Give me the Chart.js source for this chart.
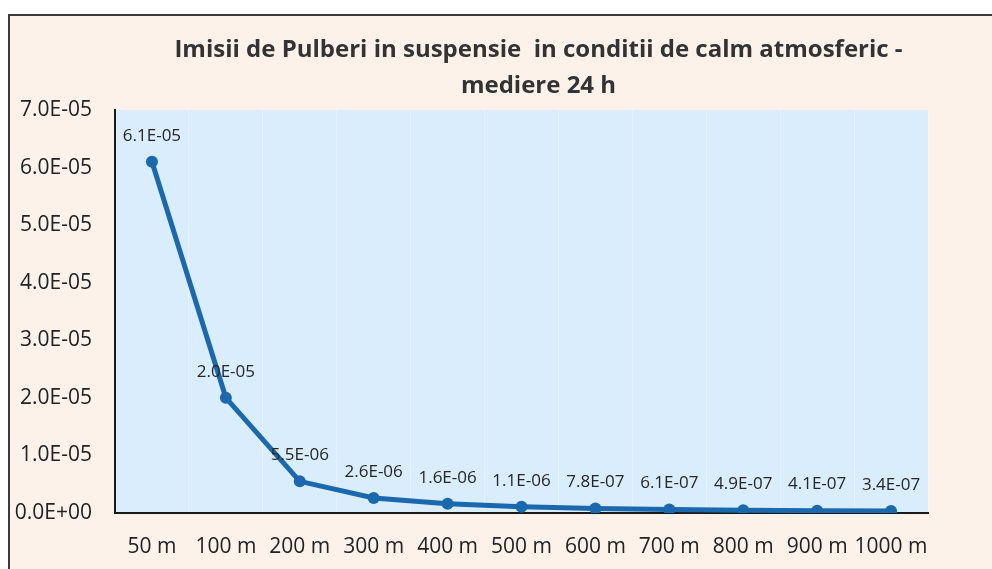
<!DOCTYPE html>
<html>
<head>
<meta charset="utf-8">
<script src="https://cdn.jsdelivr.net/npm/chart.js@4/dist/chart.umd.min.js"></script>
<style>
    html, body { margin: 0; padding: 0; background: #ffffff; overflow: hidden; }
    #frame {
        position: absolute; left: 8px; top: 14px; width: 1000px; height: 600px;
        border-top: 2px solid #3a3a3a; border-left: 2px solid #3a3a3a;
        background: #fcf2ea;
    }
    #wrap { position: absolute; left: 0; top: 0; width: 992px; height: 569px; }
</style>
</head>
<body>
<div id="frame"></div>
<div id="wrap"><canvas id="chart" width="992" height="569"></canvas></div>
<script>
// Date din grafic
const titleLines = ['Imisii de Pulberi in suspensie  in conditii de calm atmosferic -', 'mediere 24 h'];
const distances = ['50 m', '100 m', '200 m', '300 m', '400 m', '500 m', '600 m', '700 m', '800 m', '900 m', '1000 m'];
const imisii = [6.1e-5, 2.0e-5, 5.5e-6, 2.6e-6, 1.6e-6, 1.1e-6, 7.8e-7, 6.1e-7, 4.9e-7, 4.1e-7, 3.4e-7];
const yMin = 0;
const yMax = 7e-5;
const yStep = 1e-5;

// format stiintific ca in Excel: 6.1E-05
function sci(v) {
    const parts = v.toExponential(1).split('e');
    const exp = parseInt(parts[1], 10);
    return parts[0] + 'E' + (exp < 0 ? '-' : '+') + String(Math.abs(exp)).padStart(2, '0');
}

const FONT = "'Open Sans', 'DejaVu Sans', sans-serif";

// fundal albastru pentru zona graficului
const plotBg = {
    id: 'plotBg',
    beforeDraw(chart) {
        const { ctx, chartArea: a } = chart;
        ctx.save();
        ctx.fillStyle = '#d9edfc';
        ctx.fillRect(a.left, a.top, a.right - a.left, a.bottom - a.top);
        ctx.restore();
    }
};

// titlul pe doua randuri
const titlePlugin = {
    id: 'titlePlugin',
    afterDraw(chart) {
        const { ctx, chartArea: a } = chart;
        const cx = (a.left + a.right) / 2 + 17;
        ctx.save();
        ctx.font = 'bold 24px ' + FONT;
        ctx.fillStyle = '#333333';
        ctx.textAlign = 'center';
        ctx.textBaseline = 'middle';
        ctx.fillText(titleLines[0], cx, 50);
        ctx.fillText(titleLines[1], cx, 86);
        ctx.restore();
    }
};

// etichete de valori deasupra punctelor
const valueLabels = {
    id: 'valueLabels',
    afterDatasetsDraw(chart) {
        const { ctx } = chart;
        const meta = chart.getDatasetMeta(0);
        const data = chart.data.datasets[0].data;
        ctx.save();
        ctx.font = '17px ' + FONT;
        ctx.fillStyle = '#262626';
        ctx.textAlign = 'center';
        ctx.textBaseline = 'middle';
        meta.data.forEach((pt, i) => {
            ctx.fillText(sci(data[i]), pt.x, pt.y - 26);
        });
        ctx.restore();
    }
};

new Chart(document.getElementById('chart'), {
    type: 'line',
    data: {
        labels: distances,
        datasets: [{
            data: imisii,
            borderColor: '#1a68ad',
            backgroundColor: '#1a68ad',
            borderWidth: 5,
            pointRadius: 6,
            pointBackgroundColor: '#1a68ad',
            pointBorderWidth: 0,
            tension: 0
        }]
    },
    options: {
        responsive: false,
        animation: false,
        layout: { padding: { left: 0, top: 110, right: 64, bottom: 0 } },
        plugins: {
            legend: { display: false },
            title: { display: false },
            tooltip: { enabled: false }
        },
        scales: {
            x: {
                offset: true,
                grid: { display: true, offset: true, color: 'rgba(255,255,255,0.35)', drawTicks: false },
                border: { display: true, color: '#1a1a1a', width: 2 },
                ticks: { color: '#222222', font: { family: FONT, size: 21 }, padding: 21, maxRotation: 0, autoSkip: false },
                afterFit(scale) { scale.height = 56; }
            },
            y: {
                min: yMin,
                max: yMax,
                grid: { display: false, drawTicks: false },
                border: { display: true, color: '#1a1a1a', width: 2 },
                ticks: {
                    stepSize: yStep,
                    color: '#222222',
                    font: { family: FONT, size: 21 },
                    padding: 23,
                    callback: (v) => sci(v)
                },
                afterFit(scale) { scale.width = 115; }
            }
        }
    },
    plugins: [plotBg, titlePlugin, valueLabels]
});
</script>
</body>
</html>
